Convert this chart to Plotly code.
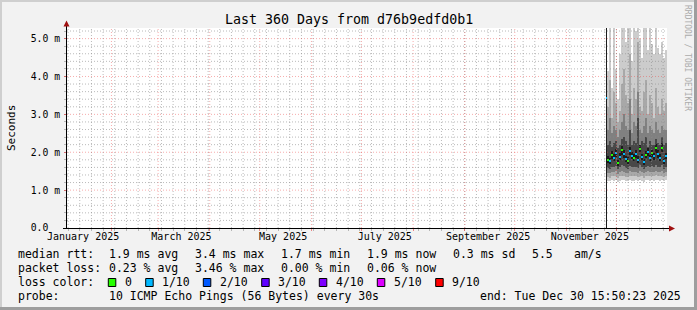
import plotly.graph_objects as go
import pandas as pd

# ---------------- data ----------------
title_text = "Last 360 Days from d76b9edfd0b1"
y_label = "Seconds"
y_tick_vals = [0, 1, 2, 3, 4, 5]
y_tick_text = ["0.0\u00a0\u00a0", "1.0 m", "2.0 m", "3.0 m", "4.0 m", "5.0 m"]
y_max = 5.28
x_start = "2025-01-05 08:00"
x_end = "2025-12-31 08:00"
x_label_dates = ["2025-01-15", "2025-03-15", "2025-05-15", "2025-07-15", "2025-09-15", "2025-11-15"]
x_label_text = ["January 2025", "March 2025", "May 2025", "July 2025", "September 2025", "November 2025"]
month_starts = ["2025-02-01", "2025-03-01", "2025-04-01", "2025-05-01", "2025-06-01", "2025-07-01",
                "2025-08-01", "2025-09-01", "2025-10-01", "2025-11-01", "2025-12-01"]

first_col_start = "2025-11-24 17:36"
col_days = [0.6] + [1.2] * 30

# sorted pings per column (ms)
p1 = [0.0, 1.25, 1.23, 1.26, 1.24, 1.27, 1.22, 1.25, 1.27, 1.26, 1.24, 1.23, 1.26, 1.25, 1.24, 1.26,
      1.23, 1.27, 1.25, 1.22, 1.26, 1.27, 1.25, 1.26, 1.24, 1.28, 1.26, 1.25, 1.27, 1.23, 1.26]
p2 = [0.0, 1.34, 1.33, 1.37, 1.36, 1.38, 1.32, 1.36, 1.38, 1.37, 1.35, 1.34, 1.38, 1.37, 1.36, 1.37,
      1.35, 1.38, 1.36, 1.33, 1.37, 1.38, 1.36, 1.37, 1.36, 1.39, 1.37, 1.36, 1.38, 1.34, 1.37]
p3 = [0.0, 1.45, 1.44, 1.48, 1.47, 1.50, 1.43, 1.47, 1.50, 1.49, 1.46, 1.45, 1.50, 1.48, 1.47, 1.48,
      1.46, 1.50, 1.47, 1.44, 1.48, 1.50, 1.47, 1.49, 1.47, 1.51, 1.48, 1.47, 1.50, 1.45, 1.48]
p4 = [0.0, 1.58, 1.56, 1.62, 1.60, 1.64, 1.55, 1.60, 1.66, 1.63, 1.58, 1.57, 1.65, 1.62, 1.60, 1.62,
      1.58, 1.66, 1.60, 1.55, 1.62, 1.64, 1.60, 1.63, 1.60, 1.67, 1.62, 1.60, 1.66, 1.57, 1.61]
p5 = [0.0, 1.72, 1.68, 1.82, 1.76, 1.88, 1.65, 1.79, 1.94, 1.86, 1.74, 1.70, 1.92, 1.81, 1.78, 1.86,
      1.72, 1.97, 1.79, 1.67, 1.84, 1.91, 1.76, 1.88, 1.80, 1.99, 1.86, 1.78, 2.01, 1.69, 1.81]
p6 = [5.6, 1.90, 1.85, 2.03, 1.95, 2.08, 1.80, 1.98, 2.16, 2.05, 1.91, 1.87, 2.13, 2.00, 1.95, 2.05,
      1.89, 2.19, 1.96, 1.82, 2.03, 2.10, 1.93, 2.07, 1.99, 2.21, 2.05, 1.95, 2.24, 1.84, 1.99]
p7 = [5.6, 2.20, 2.30, 2.15, 2.25, 2.30, 2.10, 2.20, 2.35, 2.40, 2.30, 2.20, 2.60, 2.20, 2.30, 2.25,
      2.90, 2.20, 2.30, 2.25, 2.40, 2.15, 2.30, 2.20, 2.20, 2.35, 2.25, 2.20, 2.40, 2.20, 2.25]
p8 = [5.6, 2.60, 2.90, 2.50, 2.70, 2.60, 2.40, 2.60, 2.80, 3.00, 2.70, 2.60, 3.40, 2.50, 2.80, 2.70,
      3.60, 2.60, 2.50, 2.70, 2.90, 2.50, 2.70, 2.60, 2.50, 2.80, 2.60, 2.50, 2.70, 2.60, 2.60]
p9 = [5.6, 3.20, 3.90, 2.90, 3.60, 3.30, 2.80, 3.10, 3.80, 4.20, 3.50, 3.30, 4.60, 3.00, 3.70, 3.40,
      4.90, 3.20, 3.10, 3.60, 3.90, 3.00, 3.50, 3.30, 2.90, 3.70, 3.20, 3.00, 3.40, 3.10, 3.30]
p10 = [5.6, 4.15, 5.60, 3.70, 5.40, 4.20, 3.40, 4.60, 5.50, 5.70, 4.90, 5.30, 5.80, 4.40, 5.60, 5.20,
       5.90, 5.00, 4.50, 5.50, 5.35, 4.70, 5.60, 4.85, 4.60, 5.40, 4.75, 4.60, 4.90, 4.50, 4.70]
median = [3.43, 1.80, 1.76, 1.92, 1.85, 1.98, 1.72, 1.88, 2.05, 1.95, 1.82, 1.78, 2.02, 1.90, 1.86, 1.95,
          1.80, 2.08, 1.87, 1.74, 1.93, 2.00, 1.84, 1.97, 1.89, 2.10, 1.95, 1.86, 2.12, 1.76, 1.90]
loss_pct = [3.46, 0.00, 0.12, 0.00, 0.35, 0.20, 0.00, 0.15, 0.00, 0.40, 0.10, 0.00, 0.25, 0.18, 0.00, 0.30,
            0.12, 0.00, 0.22, 0.14, 0.00, 0.28, 0.10, 0.00, 0.16, 0.00, 0.32, 0.12, 0.00, 0.20, 0.06]

median_rtt_items = ["1.9 ms avg", "3.4 ms max", "1.7 ms min", "1.9 ms now", "0.3 ms sd", "5.5", "am/s"]
packet_loss_items = ["0.23 % avg", "3.46 % max", "0.00 % min", "0.06 % now"]
loss_labels = ["0", "1/10", "2/10", "3/10", "4/10", "5/10", "9/10"]
loss_colors = ["#26ff00", "#00b8ff", "#0059ff", "#5e00ff", "#7e00ff", "#dd00ff", "#ff0000"]
loss_upper_pct = [0, 10, 20, 30, 40, 50, 100]
probe_text = "10 ICMP Echo Pings (56 Bytes) every 30s"
end_text = "end: Tue Dec 30 15:50:23 2025"
credit_text = "RRDTOOL / TOBI OETIKER"

# ---------------- layout constants ----------------
W, H = 697, 310
PL, PR, PT, PB = 67, 667, 28, 228
FONT = "DejaVu Sans Mono"
smoke_shades = ["#cccccc", "#a8a8a8", "#808080", "#484848", "#1c1c1c"]
grid_minor = "rgba(140,140,140,0.6)"
grid_major = "rgba(235,70,70,0.45)"
grid_dash = "1px,2px"
arrow_col = "#a01010"


def fx(px):
    return (px - PL) / (PR - PL)


def fy(py):
    return (PB - py) / (PB - PT)


# ---------------- columns ----------------
t0 = pd.Timestamp(first_col_start)
centers, widths_ms = [], []
acc = 0.0
for d in col_days:
    centers.append(t0 + pd.Timedelta(days=acc + d / 2))
    widths_ms.append(d * 86400000)
    acc += d

pings = [p1, p2, p3, p4, p5, p6, p7, p8, p9, p10]
fig = go.Figure()
for i in range(5):
    lo, hi = pings[i], pings[9 - i]
    fig.add_trace(go.Bar(
        x=centers, base=lo, y=[h - l for h, l in zip(hi, lo)], width=widths_ms,
        marker=dict(color=smoke_shades[i], line=dict(width=0)), showlegend=False,
        hoverinfo="skip"))

med_h = 2.0 / (PB - PT) * y_max
med_colors = []
for lp in loss_pct:
    for up, c in zip(loss_upper_pct, loss_colors):
        if lp <= up:
            med_colors.append(c)
            break
fig.add_trace(go.Bar(
    x=centers, base=[m - med_h / 2 for m in median], y=[med_h] * len(median), width=widths_ms,
    marker=dict(color=med_colors, line=dict(width=0)), showlegend=False, hoverinfo="skip"))

# dummy trace for the label axis
fig.add_trace(go.Scatter(x=[x_start, x_end], y=[None, None], xaxis="x2", yaxis="y",
                         mode="markers", showlegend=False, hoverinfo="skip"))

shapes = []
# grid over data
mondays = pd.date_range("2025-01-06", "2025-12-29", freq="7D")
for d in mondays:
    shapes.append(dict(type="line", xref="x", yref="paper", x0=d, x1=d, y0=0, y1=1,
                       line=dict(color=grid_minor, width=1, dash=grid_dash), layer="above"))
for d in month_starts:
    shapes.append(dict(type="line", xref="x", yref="paper", x0=d, x1=d, y0=0, y1=1,
                       line=dict(color=grid_major, width=1, dash=grid_dash), layer="above"))
for k in range(1, 27):
    v = k * 0.2
    col = grid_major if k % 5 == 0 else grid_minor
    shapes.append(dict(type="line", xref="paper", yref="y", x0=0, x1=1, y0=v, y1=v,
                       line=dict(color=col, width=1, dash=grid_dash), layer="above"))

# axis lines & arrows
shapes.append(dict(type="line", xref="paper", yref="paper", x0=fx(66.5), x1=fx(66.5), y0=fy(228), y1=fy(22),
                   line=dict(color="black", width=1), layer="above"))
shapes.append(dict(type="line", xref="paper", yref="paper", x0=fx(63), x1=fx(670), y0=fy(228.5), y1=fy(228.5),
                   line=dict(color="black", width=1), layer="above"))
shapes.append(dict(type="path", xref="paper", yref="paper",
                   path=f"M {fx(63.5)},{fy(26.5)} L {fx(69.5)},{fy(26.5)} L {fx(66.5)},{fy(20.5)} Z",
                   fillcolor=arrow_col, line=dict(width=0), layer="above"))
shapes.append(dict(type="path", xref="paper", yref="paper",
                   path=f"M {fx(669)},{fy(225.5)} L {fx(669)},{fy(231.5)} L {fx(675)},{fy(228.5)} Z",
                   fillcolor=arrow_col, line=dict(width=0), layer="above"))

# frame
shapes.append(dict(type="rect", xref="paper", yref="paper", x0=fx(0), x1=fx(W), y0=fy(0), y1=fy(2),
                   fillcolor="#cfcfcf", line=dict(width=0)))
shapes.append(dict(type="rect", xref="paper", yref="paper", x0=fx(0), x1=fx(2), y0=fy(0), y1=fy(H),
                   fillcolor="#cfcfcf", line=dict(width=0)))
shapes.append(dict(type="rect", xref="paper", yref="paper", x0=fx(W - 3), x1=fx(W), y0=fy(0), y1=fy(H),
                   fillcolor="#9e9e9e", line=dict(width=0)))
shapes.append(dict(type="rect", xref="paper", yref="paper", x0=fx(0), x1=fx(W), y0=fy(H - 3), y1=fy(H),
                   fillcolor="#9e9e9e", line=dict(width=0)))

annotations = []


def txt(s, px, py, size=11.5, anchor="left", color="black", angle=0):
    annotations.append(dict(text=s, x=fx(px), y=fy(py), xref="paper", yref="paper",
                            xanchor=anchor, yanchor="middle", showarrow=False, textangle=angle,
                            font=dict(family=FONT, size=size, color=color)))


txt(title_text, W / 2, 19, size=13.3, anchor="center")
txt(y_label, 11, 128, size=11, anchor="center", angle=-90)
txt(credit_text, 687.5, 57.5, size=8, anchor="center", color="#ababab", angle=90)

row1_x = [107.3, 193.3, 279.3, 365.3, 451, 530.3, 572.3]
txt("median rtt:", 16, 254.3)
for s, px in zip(median_rtt_items, row1_x):
    txt(s, px, 254.3)
txt("packet loss:", 16, 268.3)
for s, px in zip(packet_loss_items, row1_x):
    txt(s, px, 268.3)
txt("loss color:", 16, 282.3)
sq_x = [108.3, 145.7, 203.3, 261.7, 319.3, 377.3, 435.7]
for lab, c, px in zip(loss_labels, loss_colors, sq_x):
    shapes.append(dict(type="rect", xref="paper", yref="paper", x0=fx(px), x1=fx(px + 7.5),
                       y0=fy(278.5), y1=fy(286.5), fillcolor=c, line=dict(color="black", width=1)))
    txt(lab, px + 14.7, 282.3)
txt("probe:", 16, 296)
txt(probe_text, 107.3, 296)
txt(end_text, 478.3, 296)

fig.update_layout(
    width=W, height=H,
    margin=dict(l=PL, r=W - PR, t=PT, b=H - PB, pad=0),
    paper_bgcolor="#f2f2f2", plot_bgcolor="#ffffff",
    barmode="overlay", bargap=0,
    showlegend=False, hovermode=False,
    font=dict(family=FONT, size=10, color="black"),
    xaxis=dict(type="date", range=[x_start, x_end], tickmode="array", tickvals=month_starts,
               showticklabels=False, showgrid=False, zeroline=False, showline=False,
               ticks="outside", ticklen=2, tickcolor="rgba(230,60,60,0.6)",
               minor=dict(tickvals=list(mondays), ticks="outside", ticklen=2,
                          tickcolor="rgba(143,143,143,0.6)", showgrid=False)),
    xaxis2=dict(type="date", overlaying="x", side="bottom", anchor="y", range=[x_start, x_end],
                tickmode="array", tickvals=x_label_dates, ticktext=x_label_text,
                showgrid=False, zeroline=False, showline=False, ticks="",
                ticklabelstandoff=1,
                tickfont=dict(family=FONT, size=10, color="black")),
    yaxis=dict(range=[0, y_max], tickmode="array", tickvals=y_tick_vals, ticktext=y_tick_text,
               showgrid=False, zeroline=False, showline=False,
               ticks="outside", ticklen=2, tickcolor="rgba(230,60,60,0.6)",
               ticklabelstandoff=2,
               tickfont=dict(family=FONT, size=9.75, color="black"),
               minor=dict(dtick=0.2, ticks="outside", ticklen=2,
                          tickcolor="rgba(143,143,143,0.6)", showgrid=False)),
    shapes=shapes, annotations=annotations,
)

fig.write_html("out.html")
